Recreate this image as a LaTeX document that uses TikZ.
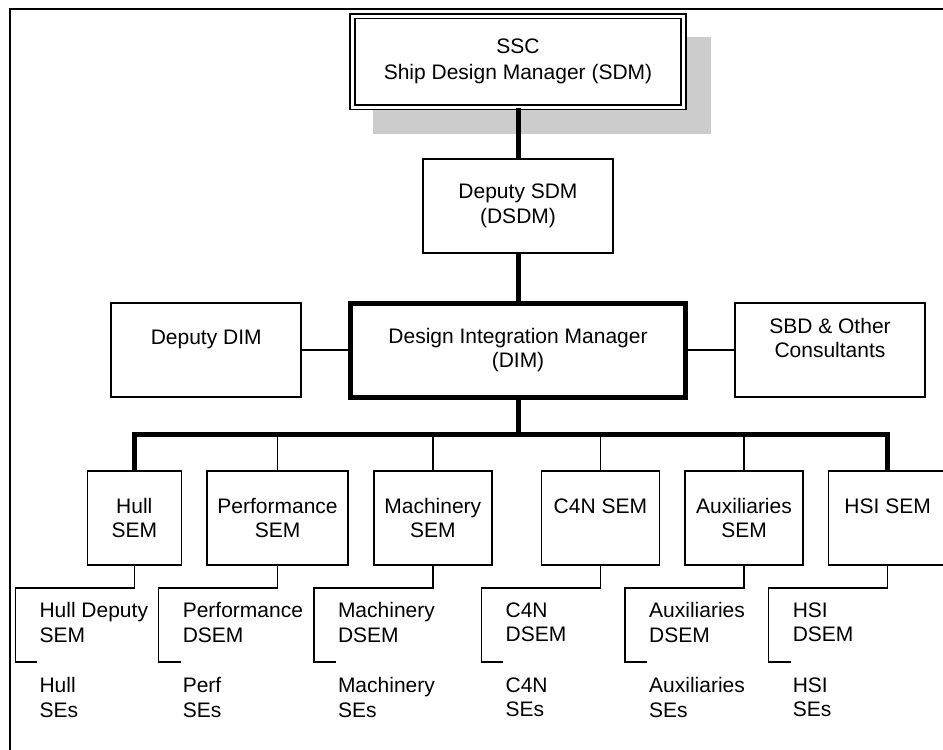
\documentclass[tikz,border=0pt]{standalone}
\usepackage{fontspec}
\setmainfont{Liberation Sans}
\usetikzlibrary{positioning}

\begin{document}
\begin{tikzpicture}[x=1pt, y=-1pt, node distance=24pt,
    every node/.style={font=\fontsize{21}{24.5}\selectfont}]
    \tikzstyle{unit}=[rectangle, draw, line width=1.6pt, fill=white, align=center,
      minimum width=190pt, minimum height=94pt]
    \tikzstyle{sem}=[unit, minimum width=118pt]
    \tikzstyle{lbl}=[anchor=north west, align=left, inner sep=0pt]
    \tikzstyle{heavy}=[line width=5pt]
    \tikzstyle{link}=[line width=1.6pt]
    \useasboundingbox (0,0) rectangle (943,750);
    % frame of the page
    \draw[line width=2.2pt] (943,9) -- (10,9) -- (10,750);
    % shadow behind the SDM box
    \fill[gray!40] (373,37) rectangle (711,134);
    \node[unit, minimum width=330.5pt, minimum height=91pt, line width=1.8pt,
      double, double distance=3pt] (sdm) at (518,61.5) {SSC\\[2pt]Ship Design Manager (SDM)};
    \node[unit] (dsdm) at (518,206) {Deputy SDM\\(DSDM)};
    \node[unit, line width=5pt, minimum width=335.6pt] (dim) at (518,350) {Design Integration Manager\\(DIM)};
    \node[unit] (ddim) at (206.2,350) {Deputy DIM\\~};
    \node[unit] (sbd) at (830,350) {SBD \& Other\\Consultants\\~};
    % SEM row
    \node[sem, minimum width=94pt] (hull) at (134.3,518) {Hull\\SEM};
    \node[sem, minimum width=141.3pt, right=of hull] (perf) {Performance\\SEM};
    \node[sem, right=of perf] (mach) {Machinery\\SEM};
    \node[sem, right=48pt of mach] (c4n) {C4N SEM\\~};
    \node[sem, right=of c4n] (aux) {Auxiliaries\\SEM};
    \node[sem, right=of aux] (hsi) {HSI SEM\\~};
    % deputies and engineers under each SEM
    \node[lbl] (hullD) at ([shift={(-95,36.7)}]hull.south) {Hull Deputy\\SEM};
    \node[lbl] (hullS) at ([shift={(-95,111.7)}]hull.south) {Hull\\SEs};
    \node[lbl] (perfD) at ([shift={(-95,36.7)}]perf.south) {Performance\\DSEM};
    \node[lbl] (perfS) at ([shift={(-95,111.7)}]perf.south) {Perf\\SEs};
    \node[lbl] (machD) at ([shift={(-95,36.7)}]mach.south) {Machinery\\DSEM};
    \node[lbl] (machS) at ([shift={(-95,111.7)}]mach.south) {Machinery\\SEs};
    \node[lbl] (c4nD) at ([shift={(-95,36.7)}]c4n.south) {C4N\\DSEM};
    \node[lbl] (c4nS) at ([shift={(-95,111.7)}]c4n.south) {C4N\\SEs};
    \node[lbl] (auxD) at ([shift={(-95,36.7)}]aux.south) {Auxiliaries\\DSEM};
    \node[lbl] (auxS) at ([shift={(-95,111.7)}]aux.south) {Auxiliaries\\SEs};
    \node[lbl] (hsiD) at ([shift={(-95,36.7)}]hsi.south) {HSI\\DSEM};
    \node[lbl] (hsiS) at ([shift={(-95,111.7)}]hsi.south) {HSI\\SEs};

    \coordinate (bus) at (518,434);
    \draw[heavy] (sdm) -- (dsdm);
    \draw[heavy] (dsdm) -- (dim);
    \draw[link] (ddim) -- (dim);
    \draw[link] (dim) -- (sbd);
    \draw[heavy] (dim) -- (bus);
    \draw[heavy] (hull.north) |- (bus) -| (hsi.north);
    \draw[link] (perf.north) -- (perf.north |- bus);
    \draw[link] (mach.north) -- (mach.north |- bus);
    \draw[link] (c4n.north) -- (c4n.north |- bus);
    \draw[link] (aux.north) -- (aux.north |- bus);
    \draw[link] (hull.south) |- ++(-119,22) |- ([shift={(-2,-15.7)}]hullS.north west);
    \draw[link] (perf.south) |- ++(-119,22) |- ([shift={(-2,-15.7)}]perfS.north west);
    \draw[link] (mach.south) |- ++(-119,22) |- ([shift={(-2,-15.7)}]machS.north west);
    \draw[link] (c4n.south) |- ++(-119,22) |- ([shift={(-2,-15.7)}]c4nS.north west);
    \draw[link] (aux.south) |- ++(-119,22) |- ([shift={(-2,-15.7)}]auxS.north west);
    \draw[link] (hsi.south) |- ++(-119,22) |- ([shift={(-2,-15.7)}]hsiS.north west);
  \end{tikzpicture}
\end{document}
